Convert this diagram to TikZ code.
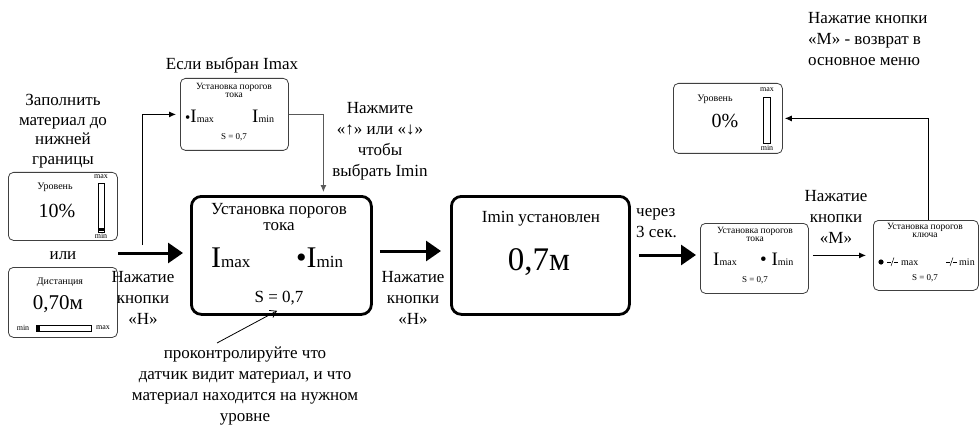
\documentclass[tikz,border=0pt]{standalone}
\usepackage{fontspec}
\setmainfont{Liberation Serif}
\usetikzlibrary{arrows.meta,calc}
\newcommand\fsz[2]{\fontsize{#1}{#2}\selectfont}
\begin{document}
\begin{tikzpicture}[x=1pt,y=-1pt,
  txt/.style={font=\fsz{17}{21}, align=center, inner sep=0},
  sbox/.style={draw=black!75, line width=0.8, rounded corners=5, anchor=north west, inner sep=0},
  bbox/.style={draw, line width=2.8, rounded corners=10, anchor=north west, inner sep=0},
  bigarrow/.style={line width=3, -{Triangle[length=15pt,width=20pt]}},
  thinarrow/.style={line width=0.9, -{Latex[length=7pt,width=6pt]}},
  tinytxt/.style={font=\fsz{8}{8}, inner sep=0},
  lbl/.style={font=\fsz{10}{10}, inner sep=0},
  ttl/.style={font=\fsz{9.5}{8}, align=center, inner sep=0},
  bar/.style={draw, line width=0.5, inner sep=0, anchor=north west},
]
\useasboundingbox (0,0) rectangle (980,425);

% ---------- left texts ----------
\node[txt, font=\fsz{17}{19.5}] (fill) at (63,131) {Заполнить\\материал до\\нижней\\границы};
\node[txt] (ili) at (63,256) {или};

% ---------- level box 10% ----------
\node[sbox, minimum width=109, minimum height=68] (lvl1) at (8,172) {};
\node[lbl] (lvl1t) at (55,187) {Уровень};
\node[font=\fsz{20}{20}, inner sep=0] (lvl1v) at (57,211) {10\%};
\node[bar, minimum width=6, minimum height=49] (lvl1bar) at (98,183) {};
\fill (98,228) rectangle (104,231);
\node[tinytxt] (lvl1max) at (101,177) {max};
\node[tinytxt] (lvl1min) at (101,236) {min};

% ---------- distance box ----------
\node[sbox, minimum width=109, minimum height=70] (dist) at (8,267) {};
\node[lbl] (distt) at (60,282) {Дистанция};
\node[font=\fsz{21}{21}, inner sep=0] (distv) at (58,304) {0,70м};
\node[tinytxt] (distmin) at (23,328) {min};
\node[bar, minimum width=55, minimum height=6] (distbar) at (36,325) {};
\fill (36,325) rectangle (40,331);
\node[tinytxt] (distmax) at (103,328) {max};

% ---------- press H (left) ----------
\coordinate (a1s) at (118,253);
\node[txt] (pressH1) at (143,298) {Нажатие\\кнопки\\«Н»};

% ---------- selected Imax box ----------
\node[txt] (ifsel) at (232,65) {Если выбран Imax};
\node[sbox, minimum width=108, minimum height=72] (sel) at (180,78) {};
\node[ttl] (selt) at (234,90) {Установка порогов\\тока};
\node[inner sep=0, anchor=base west] (selmax) at (185,123) {{\fsz{15}{15}•}{\fsz{19}{19}I}{\fsz{10}{10}max}};
\node[inner sep=0, anchor=base west] (selmin) at (252,123) {{\fsz{19}{19}I}{\fsz{10}{10}min}};
\node[font=\fsz{9}{9}, inner sep=0] (sels) at (234,137) {S = 0,7};

\node[txt] (press) at (380,141) {Нажмите\\«↑» или «↓»\\чтобы\\выбрать Imin};

% ---------- main box ----------
\node[bbox, minimum width=180, minimum height=118] (main) at (190,195) {};
\node[txt, font=\fsz{17}{16}] (maint) at (279,217) {Установка порогов\\тока};
\node[inner sep=0, anchor=base west] (mainmax) at (211,267) {{\fsz{30}{30}I}{\fsz{17}{17}max}};
\node[inner sep=0, anchor=base west] (mainmin) at (296,267) {{\fsz{30}{30}•I}{\fsz{17}{17}min}};
\node[font=\fsz{17}{17}, inner sep=0, anchor=base] (mains) at (279,302) {S = 0,7};

\node[txt] (proc) at (245,386) {проконтролируйте что\\датчик видит материал, и что\\материал находится на нужном\\уровне};
\coordinate (procs) at (217,343);

% ---------- Imin set box ----------
\node[txt] (pressH2) at (413,298) {Нажатие\\кнопки\\«Н»};
\node[bbox, minimum width=178, minimum height=118] (imin) at (450,195) {};
\node[font=\fsz{17}{17}, inner sep=0, anchor=base] (imint) at (541,222) {Imin установлен};
\node[font=\fsz{33}{33}, inner sep=0, anchor=base] (iminv) at (539,270) {0,7м};

\node[txt, align=left, anchor=west] (wait) at (636,223) {через\\3 сек.};

% ---------- current box ----------
\node[sbox, minimum width=108, minimum height=70] (cur) at (700,223) {};
\node[ttl] (curt) at (755,234) {Установка порогов\\тока};
\node[inner sep=0, anchor=base west] (curmax) at (713,265) {{\fsz{19}{19}I}{\fsz{10}{10}max}};
\node[inner sep=0, anchor=base west] (curmin) at (760,265) {{\fsz{19}{19}• I}{\fsz{10}{10}min}};
\node[font=\fsz{9}{9}, inner sep=0] (curs) at (755,280) {S = 0,7};

\node[txt] (pressM) at (836,217) {Нажатие\\кнопки\\«М»};

% ---------- key box ----------
\node[sbox, minimum width=105, minimum height=70] (key) at (873,220) {};
\node[ttl] (keyt) at (925,230) {Установка порогов\\ключа};
\fill (881,262) circle (2.6);
\begin{scope}[line width=0.5]
  \draw (887,262) -- (891,262) (894,262) -- (898,262);
  \draw (891,266) -- (894,257.5);
  \draw (946,262) -- (950,262) (953,262) -- (957,262);
  \draw (950,266) -- (953,257.5);
\end{scope}
\node[lbl, anchor=base west] (keymax) at (901,265) {max};
\node[lbl, anchor=base west] (keymin) at (959,265) {min};
\node[font=\fsz{9}{9}, inner sep=0] (keys) at (925,278) {S = 0,7};

% ---------- level 0% box ----------
\node[sbox, minimum width=109, minimum height=70] (lvl0) at (673,83) {};
\node[lbl] (lvl0t) at (715,99) {Уровень};
\node[font=\fsz{20}{20}, inner sep=0] (lvl0v) at (725,121) {0\%};
\node[bar, minimum width=7, minimum height=46] (lvl0bar) at (763,97) {};
\node[tinytxt] (lvl0max) at (767,90) {max};
\node[tinytxt] (lvl0min) at (767,148) {min};

\node[txt, align=left, anchor=west] (ret) at (808,39) {Нажатие кнопки\\«М» - возврат в\\основное меню};

% ---------- connectors ----------
\draw[bigarrow, shorten >=7] (a1s) -- (main.west |- a1s);
\draw[thinarrow, shorten >=4] ($(a1s)+(24,-8)$) |- (sel.west);
\draw[thinarrow, draw=black!65, shorten >=3] (sel.east) -| ([xshift=42]main.north);
\draw[line width=0.8, -{Straight Barb[length=6pt,width=8pt]}] (procs) -- ([shift={(-2,6)}]mains.south);
\draw[bigarrow, shorten <=7, shorten >=9] (main.east |- 0,251) -- (imin.west |- 0,251);
\draw[bigarrow, shorten <=8, shorten >=4] (imin.east |- 0,255) -- (cur.west |- 0,255);
\draw[thinarrow, shorten <=4, shorten >=7] (cur.east |- key.west) -- (key.west);
\draw[thinarrow, shorten >=2] ([xshift=3]key.north) |- (lvl0.east);
\end{tikzpicture}
\end{document}
